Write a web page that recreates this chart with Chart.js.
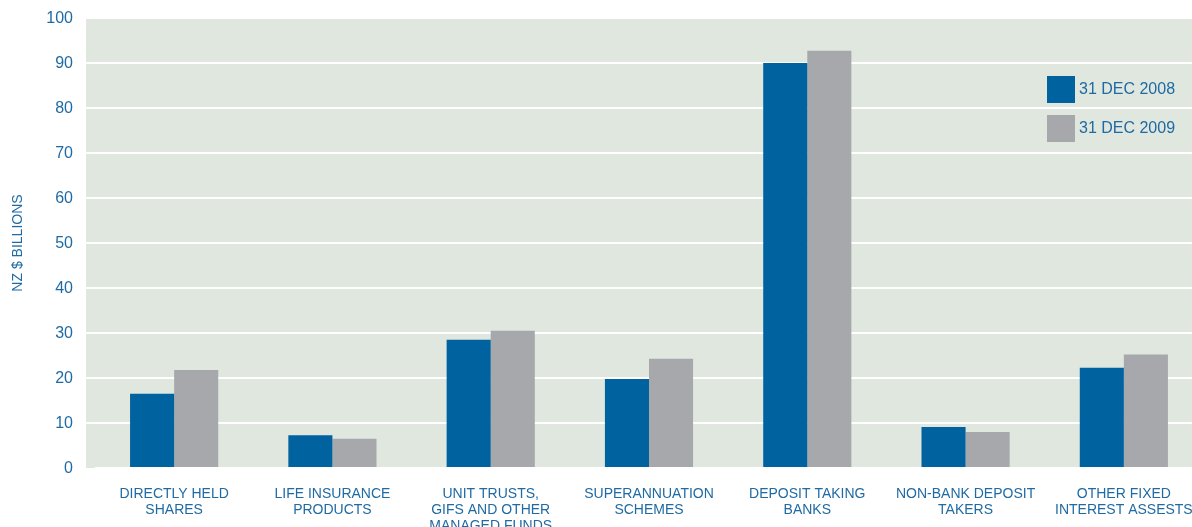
<!DOCTYPE html>
<html>
<head>
<meta charset="utf-8">
<script src="https://cdn.jsdelivr.net/npm/chart.js@4/dist/chart.umd.min.js"></script>
<style>
  html, body { margin: 0; padding: 0; background: #ffffff; }
  #wrap { width: 1192px; height: 527px; }
</style>
</head>
<body>
<div id="wrap"><canvas id="myChart" width="1192" height="527"></canvas></div>
<script>
// Categories and values (NZ $ billions)
const categories = [
  ["DIRECTLY HELD", "SHARES"],
  ["LIFE INSURANCE", "PRODUCTS"],
  ["UNIT TRUSTS,", "GIFS AND OTHER", "MANAGED FUNDS"],
  ["SUPERANNUATION", "SCHEMES"],
  ["DEPOSIT TAKING", "BANKS"],
  ["NON-BANK DEPOSIT", "TAKERS"],
  ["OTHER FIXED", "INTEREST ASSESTS"]
];
const values2008 = [16.5, 7.3, 28.5, 19.8, 90.0, 9.1, 22.3];
const values2009 = [21.8, 6.5, 30.5, 24.3, 92.7, 8.0, 25.2];
const seriesLabels = ["31 DEC 2008", "31 DEC 2009"];
const yTicks = [0, 10, 20, 30, 40, 50, 60, 70, 80, 90, 100];

const textColor = "#1f6aa3";
const blue = "#00629e";
const grey = "#a7a8ab";
const bgLeft = 86;      // grey-green panel starts a bit left of the first category
const plotRight = 1203; // last category runs a little past the picture's edge

// Let the category axis run past the right edge of the canvas
const widenPlot = {
  id: "widenPlot",
  afterLayout(chart) {
    const x = chart.scales.x;
    x.right = plotRight;
    x.width = x.right - x.left;
    x.configure();
    chart.chartArea.right = plotRight;
    chart.chartArea.width = plotRight - chart.chartArea.left;
  }
};

// Background of plot area (plus the short strip left of the chart area)
const plotBackground = {
  id: "plotBackground",
  beforeDraw(chart) {
    const a = chart.chartArea;
    const ctx = chart.ctx;
    const y = chart.scales.y;
    ctx.save();
    ctx.fillStyle = "#dfe7df";
    ctx.fillRect(bgLeft, a.top, a.right - bgLeft, a.bottom - a.top);
    ctx.strokeStyle = "#ffffff";
    ctx.lineWidth = 2;
    y.ticks.forEach(function (t) {
      if (t.value === 0) return;
      const py = Math.round(y.getPixelForValue(t.value));
      ctx.beginPath();
      ctx.moveTo(bgLeft, py);
      ctx.lineTo(a.left, py);
      ctx.stroke();
    });
    ctx.restore();
  }
};

// Legend sits inside the plot, top right
const insideLegend = {
  id: "insideLegend",
  afterDatasetsDraw(chart) {
    const ctx = chart.ctx;
    ctx.save();
    ctx.font = "16px 'Liberation Sans Narrow', 'Liberation Sans', sans-serif";
    ctx.textBaseline = "middle";
    chart.data.datasets.forEach(function (ds, i) {
      const y = 76 + i * 39;
      ctx.fillStyle = ds.backgroundColor;
      ctx.fillRect(1047, y, 28, 27);
      ctx.fillStyle = textColor;
      ctx.fillText(ds.label, 1079, y + 14);
    });
    ctx.restore();
  }
};

new Chart("myChart", {
  type: "bar",
  data: {
    labels: categories,
    datasets: [{
      label: seriesLabels[0],
      data: values2008,
      backgroundColor: blue,
      barPercentage: 1,
      categoryPercentage: 0.557
    }, {
      label: seriesLabels[1],
      data: values2009,
      backgroundColor: grey,
      barPercentage: 1,
      categoryPercentage: 0.557
    }]
  },
  options: {
    responsive: false,
    animation: false,
    layout: { padding: { top: 18, right: 0, left: 0, bottom: 0 } },
    plugins: {
      legend: { display: false },
      tooltip: { enabled: false }
    },
    scales: {
      x: {
        grid: { display: false, drawTicks: false },
        border: { display: false },
        ticks: {
          color: textColor,
          padding: 18,
          maxRotation: 0,
          autoSkip: false,
          font: { family: "'Liberation Sans Narrow', 'Liberation Sans', sans-serif", size: 14, lineHeight: 1.15 }
        },
        afterFit(scale) {
          scale.height = 59;
          scale.paddingLeft = 0;
          scale.paddingRight = 0;
        }
      },
      y: {
        min: 0,
        max: 100,
        afterBuildTicks(scale) { scale.ticks = yTicks.map(function (v) { return { value: v }; }); },
        grid: { color: "#ffffff", lineWidth: 2, drawTicks: false },
        border: { display: false },
        ticks: {
          color: textColor,
          padding: 22,
          labelOffset: 1,
          font: { family: "'Liberation Sans', sans-serif", size: 16 }
        },
        title: {
          display: true,
          text: "NZ $ BILLIONS",
          color: textColor,
          padding: { top: 10, bottom: 0 },
          font: { family: "'Liberation Sans Narrow', 'Liberation Sans', sans-serif", size: 14 }
        },
        afterFit(scale) {
          scale.width = 95;
          scale.paddingTop = 0;
          scale.paddingBottom = 0;
        }
      }
    }
  },
  plugins: [widenPlot, plotBackground, insideLegend]
});
</script>
</body>
</html>
